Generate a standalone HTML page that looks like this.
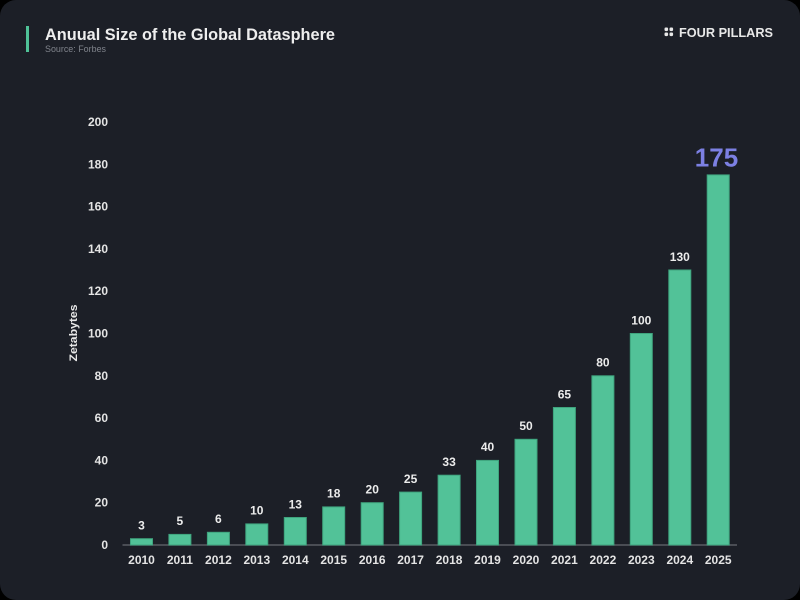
<!DOCTYPE html>
<html><head><meta charset="utf-8"><style>
html,body{margin:0;padding:0;background:#000;}
svg{display:block;}
text{font-family:"Liberation Sans",Arial,sans-serif;}
</style></head><body>
<svg width="800" height="600" viewBox="0 0 800 600" xmlns="http://www.w3.org/2000/svg">
<rect x="0" y="0" width="800" height="600" fill="#000"/>
<rect x="0" y="0" width="800" height="600" rx="16" ry="16" fill="#1c1f27"/>
<rect x="26" y="26" width="3" height="26" fill="#4fc197"/>
<text x="45" y="40" font-size="17" font-weight="bold" fill="#eeeeee" textLength="290" lengthAdjust="spacingAndGlyphs">Anuual Size of the Global Datasphere</text>
<text x="45" y="52" font-size="9" fill="#80848c" textLength="61" lengthAdjust="spacingAndGlyphs">Source: Forbes</text>
<g fill="#e8e8e8">
<rect x="664.5" y="27.5" width="3.6" height="3.6" rx="1.2"/><rect x="669.5" y="27.5" width="3.6" height="3.6" rx="1.2"/>
<rect x="664.5" y="32.5" width="3.6" height="3.6" rx="1.2"/><rect x="669.5" y="32.5" width="3.6" height="3.6" rx="1.2"/>
</g>
<text x="679" y="37" font-size="13" font-weight="bold" fill="#e8e8e8" textLength="94" lengthAdjust="spacingAndGlyphs">FOUR PILLARS</text>
<text transform="translate(77,333) rotate(-90)" text-anchor="middle" font-size="11" font-weight="bold" fill="#e8e8e8" textLength="57" lengthAdjust="spacingAndGlyphs">Zetabytes</text>
<g font-size="12" font-weight="bold" fill="#e4e4e4" text-anchor="end">
<text x="108" y="549">0</text>
<text x="108" y="506.7">20</text>
<text x="108" y="464.4">40</text>
<text x="108" y="422.1">60</text>
<text x="108" y="379.8">80</text>
<text x="108" y="337.5">100</text>
<text x="108" y="295.2">120</text>
<text x="108" y="252.9">140</text>
<text x="108" y="210.6">160</text>
<text x="108" y="168.3">180</text>
<text x="108" y="126">200</text>
</g>
<line x1="122.5" y1="545" x2="737" y2="545" stroke="#5a5d64" stroke-width="1.5"/>
<g fill="#52c298" stroke="#3fa47e" stroke-width="1">
<rect x="130.5" y="538.7" width="22" height="6.3"/>
<rect x="168.9" y="534.4" width="22" height="10.6"/>
<rect x="207.4" y="532.3" width="22" height="12.7"/>
<rect x="245.8" y="523.9" width="22" height="21.1"/>
<rect x="284.3" y="517.5" width="22" height="27.5"/>
<rect x="322.7" y="506.9" width="22" height="38.1"/>
<rect x="361.2" y="502.7" width="22" height="42.3"/>
<rect x="399.6" y="492.1" width="22" height="52.9"/>
<rect x="438.1" y="475.2" width="22" height="69.8"/>
<rect x="476.5" y="460.4" width="22" height="84.6"/>
<rect x="515.0" y="439.3" width="22" height="105.7"/>
<rect x="553.4" y="407.5" width="22" height="137.5"/>
<rect x="591.9" y="375.8" width="22" height="169.2"/>
<rect x="630.3" y="333.5" width="22" height="211.5"/>
<rect x="668.8" y="270.0" width="22" height="275"/>
<rect x="707.2" y="174.9" width="22" height="370.1"/>
</g>
<g font-size="12" font-weight="bold" fill="#ececec" text-anchor="middle">
<text x="141.5" y="529.5">3</text>
<text x="179.9" y="525.2">5</text>
<text x="218.4" y="523.1">6</text>
<text x="256.8" y="514.7">10</text>
<text x="295.3" y="508.3">13</text>
<text x="333.7" y="497.7">18</text>
<text x="372.2" y="493.5">20</text>
<text x="410.6" y="482.9">25</text>
<text x="449.1" y="466">33</text>
<text x="487.5" y="451.2">40</text>
<text x="526.0" y="430.1">50</text>
<text x="564.4" y="398.3">65</text>
<text x="602.9" y="366.6">80</text>
<text x="641.3" y="324.3">100</text>
<text x="679.8" y="260.8">130</text>
</g>
<text x="716.5" y="166.5" font-size="26" font-weight="bold" fill="#7c80e3" text-anchor="middle">175</text>
<g font-size="12" font-weight="bold" fill="#e4e4e4" text-anchor="middle">
<text x="141.5" y="564">2010</text>
<text x="179.9" y="564">2011</text>
<text x="218.4" y="564">2012</text>
<text x="256.8" y="564">2013</text>
<text x="295.3" y="564">2014</text>
<text x="333.7" y="564">2015</text>
<text x="372.2" y="564">2016</text>
<text x="410.6" y="564">2017</text>
<text x="449.1" y="564">2018</text>
<text x="487.5" y="564">2019</text>
<text x="526.0" y="564">2020</text>
<text x="564.4" y="564">2021</text>
<text x="602.9" y="564">2022</text>
<text x="641.3" y="564">2023</text>
<text x="679.8" y="564">2024</text>
<text x="718.2" y="564">2025</text>
</g>
</svg>
</body></html>
